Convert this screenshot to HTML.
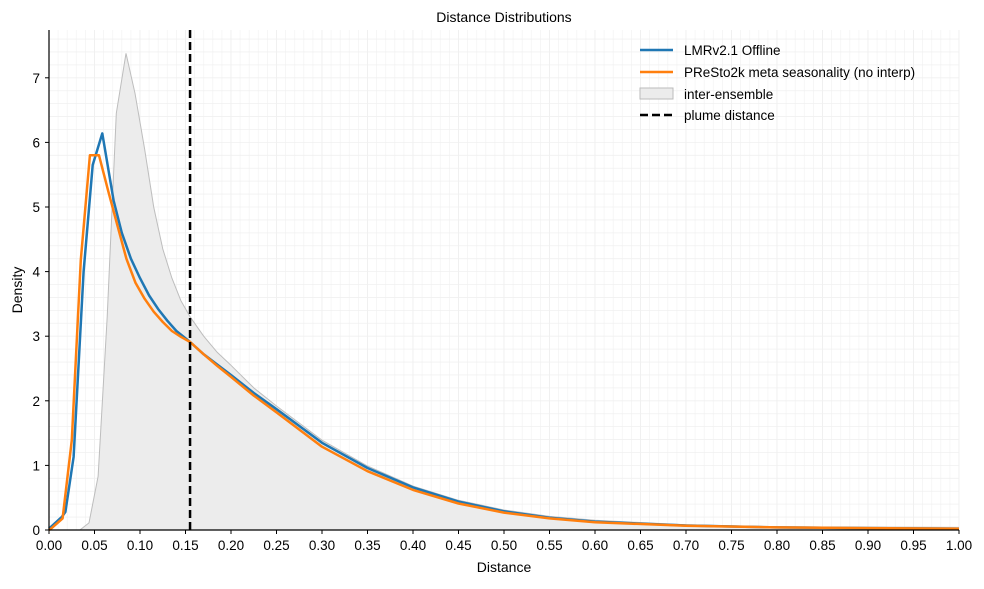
<!DOCTYPE html>
<html><head><meta charset="utf-8"><style>
body{margin:0;background:#fff;font-family:"Liberation Sans",Arial,sans-serif}
svg text{font-family:"Liberation Sans",Arial,sans-serif;fill:#000}
</style></head><body>
<svg id="chart" width="984" height="584" xmlns="http://www.w3.org/2000/svg">
<g id="grid"></g>
<g id="series"></g>
<g id="axes"></g>
<text x="504" y="22" font-size="14" text-anchor="middle">Distance Distributions</text>
<text x="504" y="572" font-size="14" text-anchor="middle">Distance</text>
<text transform="translate(22,290) rotate(-90)" font-size="14" text-anchor="middle">Density</text>
<g font-size="13.5">
  <line x1="640" y1="50" x2="673" y2="50" stroke="#1f77b4" stroke-width="2.5"/>
  <text x="684" y="55">LMRv2.1 Offline</text>
  <line x1="640" y1="72" x2="673" y2="72" stroke="#ff7f0e" stroke-width="2.5"/>
  <text x="684" y="77">PReSto2k meta seasonality (no interp)</text>
  <rect x="640" y="88" width="33" height="11" fill="#ececec" stroke="#bbb" stroke-width="1"/>
  <text x="684" y="99">inter-ensemble</text>
  <line x1="640" y1="115" x2="673" y2="115" stroke="#000" stroke-width="2.5" stroke-dasharray="8,4"/>
  <text x="684" y="120">plume distance</text>
</g>
</svg>
<script>
const blueX=[0,0.014,0.018,0.027,0.038,0.048,0.0586,0.071,0.08,0.09,0.1,0.11,0.12,0.13,0.14,0.155,0.17,0.185,0.2,0.225,0.25,0.3,0.35,0.4,0.45,0.5,0.55,0.6,0.7,0.8,0.9,1.0];
const blueY=[0.02,0.2,0.28,1.13,4.0,5.65,6.14,5.1,4.6,4.2,3.9,3.63,3.42,3.24,3.08,2.91,2.72,2.56,2.4,2.12,1.87,1.35,0.96,0.66,0.44,0.29,0.19,0.13,0.07,0.04,0.03,0.02];
const orangeX=[0,0.003,0.015,0.025,0.035,0.045,0.055,0.065,0.075,0.085,0.095,0.105,0.115,0.125,0.135,0.145,0.155,0.17,0.185,0.2,0.225,0.25,0.3,0.35,0.4,0.45,0.5,0.55,0.6,0.7,0.8,0.9,1.0];
const orangeY=[0,0.03,0.18,1.39,4.18,5.8,5.8,5.25,4.72,4.2,3.83,3.58,3.38,3.22,3.08,2.99,2.91,2.72,2.54,2.37,2.08,1.82,1.29,0.91,0.62,0.41,0.27,0.18,0.12,0.065,0.04,0.03,0.02];
const grayX=[0.028,0.034,0.044,0.054,0.064,0.074,0.0846,0.0945,0.105,0.115,0.125,0.135,0.145,0.155,0.17,0.185,0.2,0.225,0.25,0.3,0.35,0.4,0.45,0.5,0.55,0.6,0.7,0.8,0.9,1.0];
const grayY=[0,0,0.11,0.83,3.3,6.45,7.38,6.76,5.9,5.0,4.35,3.9,3.55,3.3,3.0,2.75,2.55,2.2,1.92,1.39,0.99,0.68,0.46,0.31,0.21,0.15,0.08,0.05,0.045,0.04];
const plumeDistance=0.155;
const xTicks=[0,0.05,0.1,0.15,0.2,0.25,0.3,0.35,0.4,0.45,0.5,0.55,0.6,0.65,0.7,0.75,0.8,0.85,0.9,0.95,1.0];
const yTicks=[0,1,2,3,4,5,6,7];

const X0=49,X1=959,Y0=530,YPX=64.6,YTOP=30;
const sx=v=>X0+v*(X1-X0);
const sy=v=>Y0-v*YPX;
const NS='http://www.w3.org/2000/svg';
function mk(tag,attrs,parent){const e=document.createElementNS(NS,tag);for(const k in attrs)e.setAttribute(k,attrs[k]);parent.appendChild(e);return e;}
const grid=document.getElementById('grid'),series=document.getElementById('series'),axes=document.getElementById('axes');
for(let i=1;i<=100;i++){const l=mk('line',{x1:sx(i/100),x2:sx(i/100),y1:YTOP,y2:Y0,stroke:i%5==0?'#ececec':'#f4f4f4','stroke-width':0.8},grid);

}
for(let v=0.2;sy(v)>YTOP;v+=0.2){const l=mk('line',{x1:X0,x2:X1,y1:sy(v),y2:sy(v),stroke:'#f0f0f0','stroke-width':0.8},grid);

}
const pts=(xs,ys)=>xs.map((x,i)=>sx(x).toFixed(1)+','+sy(ys[i]).toFixed(1)).join(' ');
const area=mk('polygon',{points:pts(grayX,grayY)+' '+sx(grayX[grayX.length-1])+','+Y0+' '+sx(grayX[0])+','+Y0,fill:'#ececec',stroke:'none'},series);


const edge=mk('polyline',{points:pts(grayX,grayY),fill:'none',stroke:'#bdbdbd','stroke-width':1},series);


const bl=mk('polyline',{points:pts(blueX,blueY),fill:'none',stroke:'#1f77b4','stroke-width':2.5,'stroke-linejoin':'round'},series);


const ol=mk('polyline',{points:pts(orangeX,orangeY),fill:'none',stroke:'#ff7f0e','stroke-width':2.5,'stroke-linejoin':'round'},series);


const pl=mk('line',{x1:sx(plumeDistance),x2:sx(plumeDistance),y1:YTOP,y2:Y0,stroke:'#000','stroke-width':2.5,'stroke-dasharray':'8,4'},series);


const ya=mk('line',{x1:X0,x2:X0,y1:YTOP,y2:Y0,stroke:'#000','stroke-width':1.2},axes);


const xa=mk('line',{x1:X0,x2:X1,y1:Y0,y2:Y0,stroke:'#000','stroke-width':1.2},axes);


xTicks.forEach(v=>{const t=mk('line',{x1:sx(v),x2:sx(v),y1:Y0,y2:Y0+4,stroke:'#000'},axes);


const tx=mk('text',{x:sx(v),y:Y0+20,'font-size':13.5,'text-anchor':'middle'},axes);tx.textContent=v.toFixed(2);

});
yTicks.forEach(v=>{const t=mk('line',{x1:X0-4,x2:X0,y1:sy(v),y2:sy(v),stroke:'#000'},axes);


const tx=mk('text',{x:X0-9,y:sy(v)+5,'font-size':13.5,'text-anchor':'end'},axes);tx.textContent=v;

});
</script>
</body></html>
